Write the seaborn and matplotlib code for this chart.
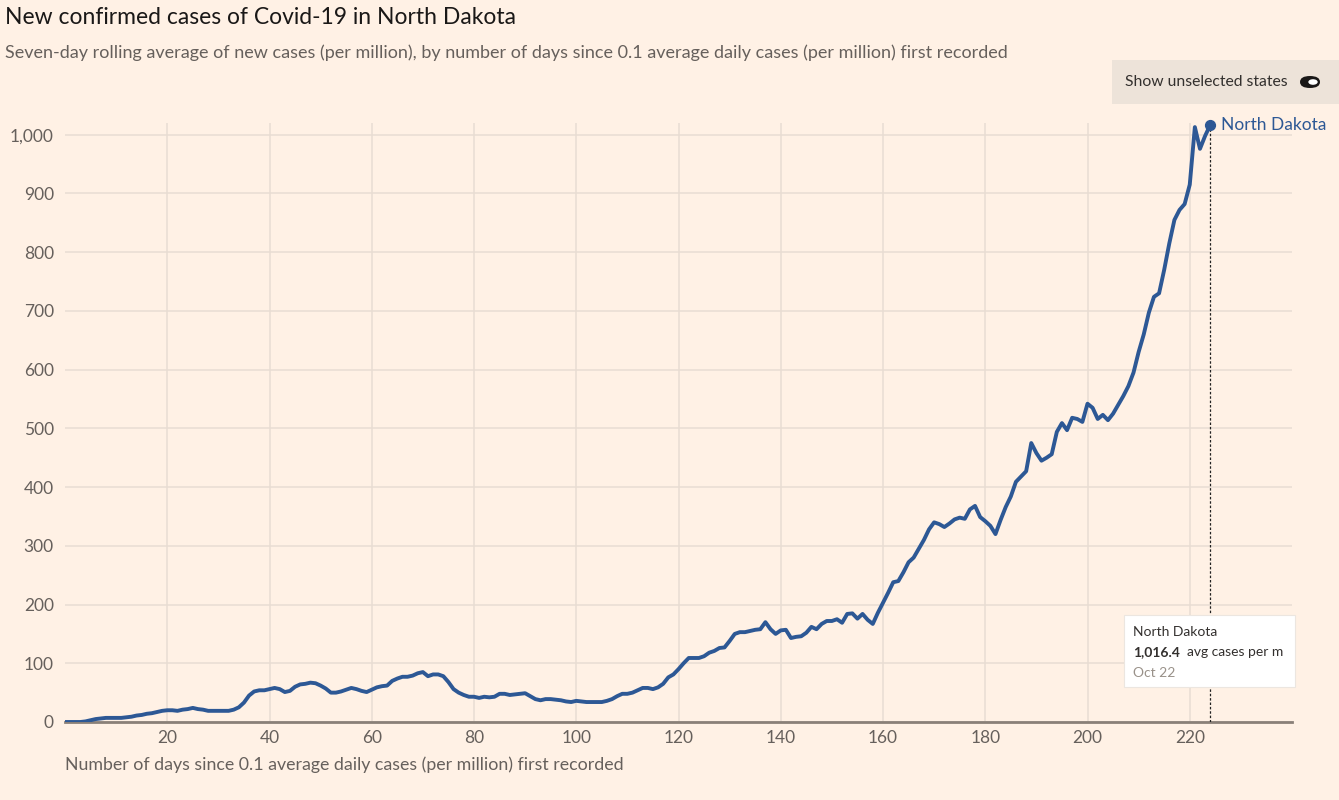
import matplotlib
matplotlib.use("Agg")
import matplotlib.pyplot as plt
from matplotlib.patches import FancyBboxPatch, Rectangle, Circle
from matplotlib.ticker import FuncFormatter, FixedLocator
import seaborn as sns
import pandas as pd

# ---- data ----
state = "North Dakota"
cases_per_million = [
    0, 0, 0, 0, 1, 3, 5, 6, 7, 7,                      # 0-9
    7, 7, 8, 9, 11, 12, 14, 15, 17, 19,                # 10-19
    20, 20, 19, 21, 22, 24, 22, 21, 19, 19,            # 20-29
    19, 19, 19, 21, 25, 33, 45, 52, 54, 54,            # 30-39
    56, 58, 56, 51, 53, 60, 64, 65, 67, 66,            # 40-49
    62, 57, 50, 50, 52, 55, 58, 56, 53, 51,            # 50-59
    55, 59, 61, 62, 70, 74, 77, 77, 79, 83,            # 60-69
    85, 78, 81, 81, 78, 68, 56, 50, 46, 43,            # 70-79
    43, 41, 43, 42, 43, 48, 48, 46, 47, 48,            # 80-89
    49, 44, 39, 37, 39, 39, 38, 37, 35, 34,            # 90-99
    36, 35, 34, 34, 34, 34, 36, 39, 44, 48,            # 100-109
    48, 50, 54, 58, 58, 56, 59, 65, 76, 81,            # 110-119
    90, 100, 109, 109, 109, 112, 118, 121, 126, 127,   # 120-129
    138, 150, 153, 153, 155, 157, 158, 170, 158, 150,  # 130-139
    156, 157, 143, 145, 146, 152, 162, 158, 167, 172,  # 140-149
    172, 175, 169, 184, 185, 176, 184, 174, 167, 186,  # 150-159
    203, 220, 238, 240, 255, 272, 280, 295, 310, 328,  # 160-169
    340, 337, 332, 338, 345, 348, 346, 362, 368, 349,  # 170-179
    342, 334, 320, 344, 366, 384, 409, 418, 427, 475,  # 180-189
    458, 445, 450, 456, 494, 509, 497, 518, 516, 511,  # 190-199
    542, 535, 516, 523, 514, 525, 540, 555, 572, 595,  # 200-209
    630, 660, 697, 724, 730, 770, 815, 855, 872, 882,  # 210-219
    915, 1013, 976, 998, 1016.4,                       # 220-224
]
days = list(range(len(cases_per_million)))
x_ticks = [20, 40, 60, 80, 100, 120, 140, 160, 180, 200, 220]
y_ticks = [0, 100, 200, 300, 400, 500, 600, 700, 800, 900, 1000]
tooltip_value = "1,016.4"
tooltip_date = "Oct 22"

title = "New confirmed cases of Covid-19 in North Dakota"
subtitle = ("Seven-day rolling average of new cases (per million), by number of days "
            "since 0.1 average daily cases (per million) first recorded")
xlabel = "Number of days since 0.1 average daily cases (per million) first recorded"
toggle_text = "Show unselected states"

df = pd.DataFrame({"day": days, "cases": cases_per_million})

# ---- style ----
BG = "#fff1e5"
LINE = "#2d5895"
GRID = "#e8ddd3"
TXT = "#66605c"
FONT = ["Lato", "DejaVu Sans"]

sns.set_theme(style="white")
plt.rcParams["font.family"] = FONT

W, H = 1339, 800
fig = plt.figure(figsize=(W / 100, H / 100), dpi=100, facecolor=BG)
ax = fig.add_axes([65 / W, 1 - 722 / H, (1292 - 65) / W, (722 - 123) / H])
ax.set_facecolor(BG)

sns.lineplot(data=df, x="day", y="cases", ax=ax, color=LINE, linewidth=2.8,
             legend=False, zorder=3)

ax.set_xlim(0, 240)
ax.set_ylim(0, 1020)
ax.xaxis.set_major_locator(FixedLocator(x_ticks))
ax.yaxis.set_major_locator(FixedLocator(y_ticks))
ax.yaxis.set_major_formatter(FuncFormatter(lambda v, p: f"{int(v):,}"))
ax.grid(True, color=GRID, linewidth=1.1, zorder=0)
for s in ["top", "right", "left"]:
    ax.spines[s].set_visible(False)
ax.spines["bottom"].set_color("#8a8078")
ax.spines["bottom"].set_linewidth(2)
ax.tick_params(axis="both", length=0, labelsize=12.5, labelcolor=TXT)
ax.tick_params(axis="y", pad=8)
ax.tick_params(axis="x", pad=6)
ax.set_xlabel("")
ax.set_ylabel("")

# end marker + label
last_x, last_y = days[-1], cases_per_million[-1]
ax.scatter([last_x], [last_y], s=50, color=LINE, zorder=5, clip_on=False)
ax.annotate(state, (last_x, last_y), xytext=(8, 0), textcoords="offset points",
            color=LINE, fontsize=12.5, va="center", ha="left", annotation_clip=False)

# dashed hover line
ax.plot([last_x, last_x], [0, last_y], color="#222222", linewidth=0.9,
        linestyle=(0, (2, 1.5)), zorder=4)

# tooltip box
tb = FancyBboxPatch((1124 / W, 1 - 687 / H), (1295 - 1124) / W, (687 - 615) / H,
                    boxstyle="square,pad=0", transform=fig.transFigure,
                    facecolor="white", edgecolor="#ece6e0", linewidth=0.8, zorder=6)
fig.patches.append(tb)
fig.text(1133 / W, 1 - 632 / H, state, fontsize=10, color="#33302e", va="center", zorder=7)
fig.text(1133 / W, 1 - 652 / H, tooltip_value, fontsize=10, color="#33302e",
         fontweight="bold", va="center", zorder=7)
fig.text(1187 / W, 1 - 652 / H, "avg cases per m", fontsize=10, color="#33302e",
         va="center", zorder=7)
fig.text(1133 / W, 1 - 673 / H, tooltip_date, fontsize=10, color="#999189", va="center", zorder=7)

# titles
fig.text(5 / W, 1 - 17 / H, title, fontsize=16.5, color="#1a1817", va="center", ha="left")
fig.text(5 / W, 1 - 53 / H, subtitle, fontsize=13, color=TXT, va="center", ha="left")
fig.text(65 / W, 1 - 765 / H, xlabel, fontsize=12.8, color=TXT, va="center", ha="left")

# toggle box
fig.patches.append(Rectangle((1112 / W, 1 - 104 / H), (1339 - 1112) / W, 44 / H,
                             transform=fig.transFigure, facecolor="#ede3d9",
                             edgecolor="none", zorder=1))
fig.text(1125 / W, 1 - 82 / H, toggle_text, fontsize=11.3, color="#33302e", va="center",
         ha="left", zorder=2)
fig.patches.append(FancyBboxPatch((1300 / W, 1 - 88 / H), 20 / W, 12 / H,
                                  boxstyle="round,pad=0,rounding_size=0.0075",
                                  transform=fig.transFigure, facecolor="#1a1817",
                                  edgecolor="none", zorder=2))
fig.patches.append(Circle((1313 / W, 1 - 82 / H), 0.0035, transform=fig.transFigure,
                          facecolor="white", edgecolor="none", zorder=3))

fig.savefig("out.png", dpi=100, facecolor=BG)
